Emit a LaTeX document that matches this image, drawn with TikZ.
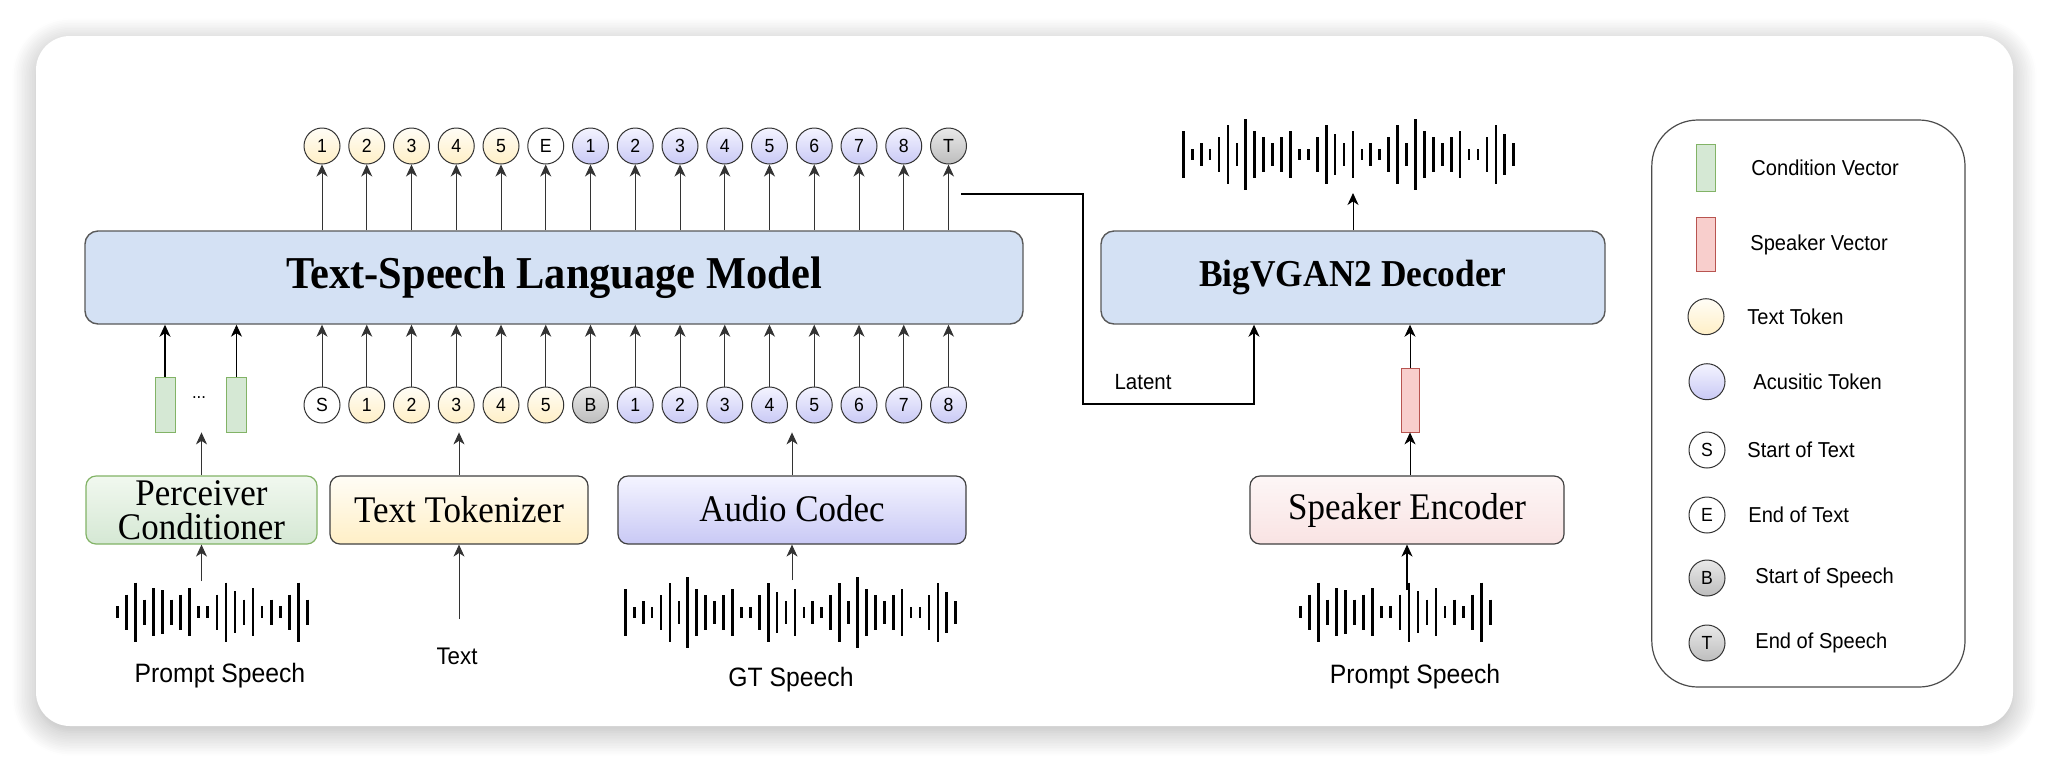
\documentclass[tikz,border=0pt]{standalone}
\usepackage{fontspec}
\setmainfont{Liberation Serif}[FakeStretch=0.93]
\setsansfont{Liberation Sans}[FakeStretch=0.93]
\usetikzlibrary{arrows.meta,shadows.blur}

\definecolor{lmblue}{HTML}{D4E1F4}
\definecolor{ytop}{HTML}{FFFDF6}
\definecolor{ybot}{HTML}{FFEFC6}
\definecolor{ltop}{HTML}{F4F4FF}
\definecolor{lbot}{HTML}{C9C9F5}
\definecolor{gtop}{HTML}{E9E9E9}
\definecolor{gbot}{HTML}{BDBDBD}
\definecolor{condfill}{HTML}{D5E8D4}
\definecolor{conddraw}{HTML}{82B366}
\definecolor{spkfill}{HTML}{F8CECC}
\definecolor{spkdraw}{HTML}{B85450}
\definecolor{ptop}{HTML}{FDF6F6}
\definecolor{pbot}{HTML}{F9E3E3}
\definecolor{gntop}{HTML}{F1F8EF}
\definecolor{gnbot}{HTML}{D5E8D4}

\tikzset{
  arr/.style={-{Stealth[length=6pt,width=5.5pt,inset=1.8pt]}, draw=black!80, line width=0.5pt},
  tok/.style={circle, draw=black!80, line width=0.5pt, minimum size=18pt, inner sep=0pt,
    font=\sffamily\fontsize{9.5}{10}\selectfont},
  block/.style={draw=black!75, line width=0.6pt, rounded corners=5pt, inner sep=0pt,
    font=\fontsize{18.8}{17}\selectfont},
  model/.style={draw=black!65, fill=lmblue, line width=0.7pt, rounded corners=6.5pt,
    minimum height=46.5pt, font=\bfseries},
  bar/.style={line width=1.35pt},
  lbl/.style={font=\sffamily\fontsize{13.3}{14}\selectfont},
  legtext/.style={anchor=west, inner sep=0pt, font=\sffamily\fontsize{10.8}{12}\selectfont},
}

% waveform: x0, y centre, step, list macro of half heights
\newcommand{\wavebars}[4]{%
  \foreach \h [count=\k from 0] in #4
    \draw[bar] ({#1+#3*\k},{#2-\h}) -- ({#1+#3*\k},{#2+\h});%
}
\newcommand{\shortwave}{6,17.5,29.5,12.5,24,22,12.5,17.5,24,6,6,17.5,29.5,21,12.5,24,6,12.5,6,17.5,29.5,12.5}
\newcommand{\longwave}{23.3,5.7,11.7,5.7,17.7,29.3,11.7,35.3,23.3,17.7,11.7,17.7,23.3,5.7,5.7,17.7,29.3,20.7,11.7,
  23.3,5.7,11.7,5.7,17.7,29.3,11.7,35.3,23.3,17.7,11.7,17.7,23.3,5.7,5.7,17.7,29.3,20.7,11.7}

\begin{document}
\begin{tikzpicture}[x=0.5pt,y=-0.5pt]
  \useasboundingbox (0,0) rectangle (2050,762);
  \node[fill=white, rounded corners=17pt, minimum width=988.5pt, minimum height=345pt,
    blur shadow={shadow xshift=0pt, shadow yshift=-3pt, shadow blur radius=12pt,
    shadow blur steps=15, shadow opacity=30}] (frame) at (1024.5,381) {};

  % models
  \node[model, minimum width=469pt, font=\bfseries\fontsize{22.8}{24}\selectfont] (lm) at (554,277.5) {Text-Speech Language Model};
  \node[model, minimum width=252pt, font=\bfseries\fontsize{19}{20}\selectfont] (dec) at (1353,277.5) {BigVGAN2 Decoder};

  % output tokens
  \foreach \lab/\ct/\cb [count=\i from 0] in {1/ytop/ybot,2/ytop/ybot,3/ytop/ybot,4/ytop/ybot,5/ytop/ybot,E/white/white,
      1/ltop/lbot,2/ltop/lbot,3/ltop/lbot,4/ltop/lbot,5/ltop/lbot,6/ltop/lbot,7/ltop/lbot,8/ltop/lbot,T/gtop/gbot}
    \node[tok, top color=\ct, bottom color=\cb] (t\i) at ({322+44.75*\i},146) {\lab};
  \foreach \i in {0,...,14}
    \draw[arr] (t\i |- lm.north) -- (t\i.south);

  % input tokens
  \foreach \lab/\ct/\cb [count=\i from 0] in {S/white/white,1/ytop/ybot,2/ytop/ybot,3/ytop/ybot,4/ytop/ybot,5/ytop/ybot,B/gtop/gbot,
      1/ltop/lbot,2/ltop/lbot,3/ltop/lbot,4/ltop/lbot,5/ltop/lbot,6/ltop/lbot,7/ltop/lbot,8/ltop/lbot}
    \node[tok, top color=\ct, bottom color=\cb] (b\i) at ({322+44.75*\i},405) {\lab};
  \foreach \i in {0,...,14}
    \draw[arr] (b\i.north) -- (b\i |- lm.south);

  % condition vectors
  \node[draw=conddraw, fill=condfill, minimum width=10pt, minimum height=27.5pt, inner sep=0pt] (cva) at (165,404.5) {};
  \node[draw=conddraw, fill=condfill, minimum width=10pt, minimum height=27.5pt, inner sep=0pt] (cvb) at (236.5,404.5) {};
  \node[font=\sffamily\fontsize{9}{9}\selectfont, inner sep=0pt] (dots) at (199,398) {...};
  \draw[arr, draw=black, line width=0.7pt] (cva.north) -- (cva |- lm.south);
  \draw[arr, draw=black] (cvb.north) -- (cvb |- lm.south);

  % encoders
  \node[block, top color=gntop, bottom color=gnbot, draw=conddraw, minimum width=115.5pt, minimum height=34pt,
    align=center] (perc) at (201.5,510) {Perceiver\\Conditioner};
  \node[block, top color=ytop, bottom color=ybot, minimum width=129pt, minimum height=34pt] (tok) at (459,510) {Text Tokenizer};
  \node[block, top color=ltop, bottom color=lbot, minimum width=174pt, minimum height=34pt] (codec) at (792,510) {\raisebox{2pt}{Audio Codec}};
  \node[block, top color=ptop, bottom color=pbot, minimum width=157pt, minimum height=34pt] (spk) at (1407,510) {Speaker Encoder};
  \draw[arr] (perc.north) -- (perc.north |- cva.south);
  \draw[arr] (tok.north) -- (tok.north |- cva.south);
  \draw[arr] (codec.north) -- (codec.north |- cva.south);

  % speaker vector
  \node[draw=spkdraw, fill=spkfill, minimum width=9pt, minimum height=32pt, inner sep=0pt] (spkvec) at (1410,400) {};
  \draw[arr, draw=black] (spk.north -| spkvec) -- (spkvec.south);
  \draw[arr, draw=black] (spkvec.north) -- (spkvec |- dec.south);

  % waveforms
  \wavebars{117.3}{612}{9.05}{\shortwave}
  \wavebars{1300.3}{612}{9.05}{\shortwave}
  \wavebars{625.3}{612.7}{8.93}{\longwave}
  \wavebars{1183.3}{154.7}{8.93}{\longwave}

  \coordinate (wp1) at (201.5,581);
  \coordinate (wt) at (459,619);
  \coordinate (wgt) at (792,580);
  \coordinate (wp2) at (1407,590);
  \coordinate (wout) at (1353,193);
  \draw[arr] (wp1) -- (perc.south);
  \draw[arr] (wt) -- (tok.south);
  \draw[arr] (wgt) -- (codec.south);
  \draw[arr, draw=black, line width=0.7pt] (wp2) -- (spk.south);
  \draw[arr, draw=black] (dec.north) -- (wout);

  \node[lbl] (ps1) at (220,676) {Prompt Speech};
  \node[lbl, font=\sffamily\fontsize{12}{13}\selectfont] (txt) at (457,656) {Text};
  \node[lbl] (gts) at (791,680) {GT Speech};
  \node[lbl] (ps2) at (1415,677) {Prompt Speech};

  % latent
  \coordinate (lat) at (961,194);
  \coordinate (lk) at (1083,404);
  \coordinate (lt) at (1254,0);
  \draw[arr, draw=black, line width=0.7pt] (lat) -| (lk) -| (dec.south -| lt);
  \node[font=\sffamily\fontsize{11}{12}\selectfont] (latlbl) at (1143,382) {Latent};

  % legend
  \node[draw=black!70, line width=0.6pt, rounded corners=23pt, minimum width=156.6pt, minimum height=283.5pt] (legend) at (1808.4,403.5) {};
  \node[draw=conddraw, fill=condfill, minimum width=9.5pt, minimum height=23.5pt, inner sep=0pt] (lg1) at (1706,168) {};
  \node[draw=spkdraw, fill=spkfill, minimum width=9.5pt, minimum height=27pt, inner sep=0pt] (lg2) at (1706,244.5) {};
  \node[tok, top color=ytop, bottom color=ybot] (lg3) at (1706,316.7) {};
  \node[tok, top color=ltop, bottom color=lbot] (lg4) at (1707,381.7) {};
  \node[tok, fill=white] (lg5) at (1707,450) {S};
  \node[tok, fill=white] (lg6) at (1707,515) {E};
  \node[tok, top color=gtop, bottom color=gbot] (lg7) at (1707,578) {B};
  \node[tok, top color=gtop, bottom color=gbot] (lg8) at (1707,643) {T};
  \node[legtext] at (1751,168) {Condition Vector};
  \node[legtext] at (1750,244.5) {Speaker Vector};
  \node[legtext] at (1747,316.7) {Text Token};
  \node[legtext] at (1753,381.7) {Acusitic Token};
  \node[legtext] at (1747,450) {Start of Text};
  \node[legtext] at (1748,515) {End of Text};
  \node[legtext] at (1755,578) {Start of Speech};
  \node[legtext] at (1755,643) {End of Speech};
\end{tikzpicture}
\end{document}
